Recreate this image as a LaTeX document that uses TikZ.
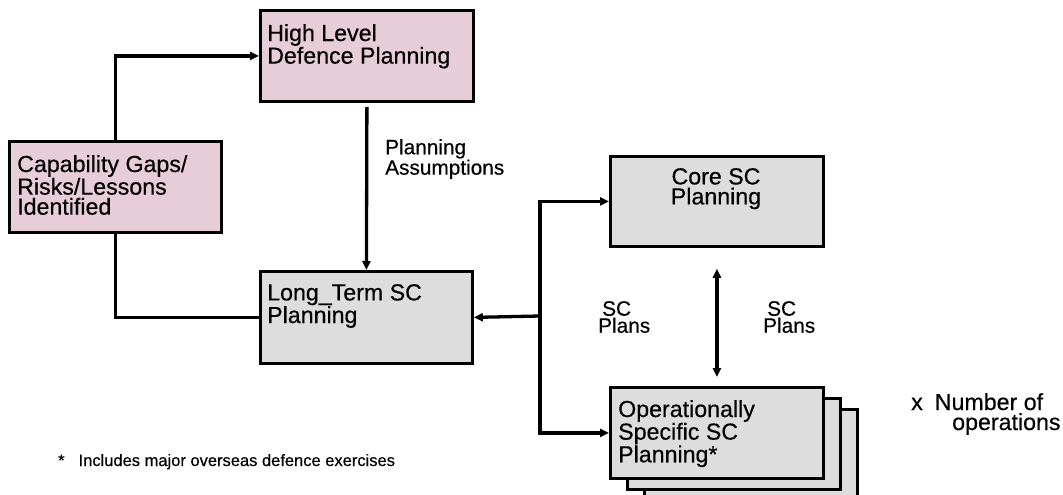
\documentclass[tikz,border=0pt]{standalone}
\usepackage{fontspec}
\setmainfont{Liberation Sans}[FakeBold=0.4]
\usetikzlibrary{arrows.meta}
\definecolor{pinkfill}{RGB}{230,205,215}
\definecolor{grayfill}{RGB}{221,221,221}
\tikzset{
  box/.style={draw=black, line width=2.8pt, rectangle, inner sep=0pt, anchor=north west},
  pinkbox/.style={box, fill=pinkfill},
  graybox/.style={box, fill=grayfill},
  boxtext/.style={inner sep=0pt, anchor=north west, align=left, font=\fontsize{23.2}{20}\selectfont},
  lbl/.style={inner sep=0pt, anchor=north west, align=left, font=\fontsize{20.8}{17}\selectfont},
  conn/.style={line width=3.3pt},
  tip/.style={-{Triangle[length=9pt,width=8pt]}},
}
\begin{document}
\begin{tikzpicture}[x=1pt,y=-1pt]
\useasboundingbox (0,0) rectangle (1063,495);
% boxes
\node[pinkbox, minimum width=213pt, minimum height=91pt] (hl) at (259,9) {};
\node[pinkbox, minimum width=212pt, minimum height=91pt] (cap) at (8,140) {};
\node[graybox, minimum width=212pt, minimum height=92pt] (lt) at (259,270) {};
\node[graybox, minimum width=213pt, minimum height=90pt] (core) at (609,155) {};
\node[graybox, minimum width=213pt, minimum height=91pt] (op3) at (643,408) {};
\node[graybox, minimum width=213pt, minimum height=91pt] (op2) at (626,397) {};
\node[graybox, minimum width=213pt, minimum height=91pt] (op) at (609,386) {};
% texts
\node[boxtext] (hlt) at (267,24) {High Level\\Defence Planning};
\node[boxtext] (capt) at (17,155) {Capability Gaps/\\Risks/Lessons\\Identified};
\node[boxtext] (ltt) at (267,284) {Long\_Term SC\\Planning};
\node[boxtext, anchor=north, align=center] (coret) at (716,168) {Core SC\\Planning};
\node[boxtext] (opt) at (618,400) {Operationally\\Specific SC\\Planning*};
% labels
\node[lbl] (pa) at (385,139) {Planning\\Assumptions};
\node[lbl] (scl) at (598,301) {\hspace{4pt}SC\\Plans};
\node[lbl] (scr) at (763,301) {\hspace{4pt}SC\\Plans};
\node[boxtext, anchor=north west] (nx) at (911,393) {x\hspace{12pt}Number of\\\hspace{41pt}operations};
\node[inner sep=0pt, anchor=base west, font=\fontsize{16.5}{18}\selectfont] (fn) at (58,466) {*\hspace{14pt}Includes major overseas defence exercises};
% connectors
\coordinate (J) at (540,316);
\draw[conn, tip] (cap.north) |- (hl.west);
\draw[conn, tip] ([yshift=-4pt]hl.south) -- (lt.north);
\draw[conn] (cap.south) |- (lt.west);
\draw[conn, tip] (J) -- (lt.east);
\draw[conn, tip] (J) |- (core.west);
\draw[conn, tip] (J) |- (op.west);
\draw[conn] (J |- core.west) -- (J |- op.west);
\draw[conn, {Triangle[length=9pt,width=8pt]}-{Triangle[length=9pt,width=8pt]}] ([yshift=-21pt]core.south) -- ([yshift=9pt]op.north);
\end{tikzpicture}
\end{document}
